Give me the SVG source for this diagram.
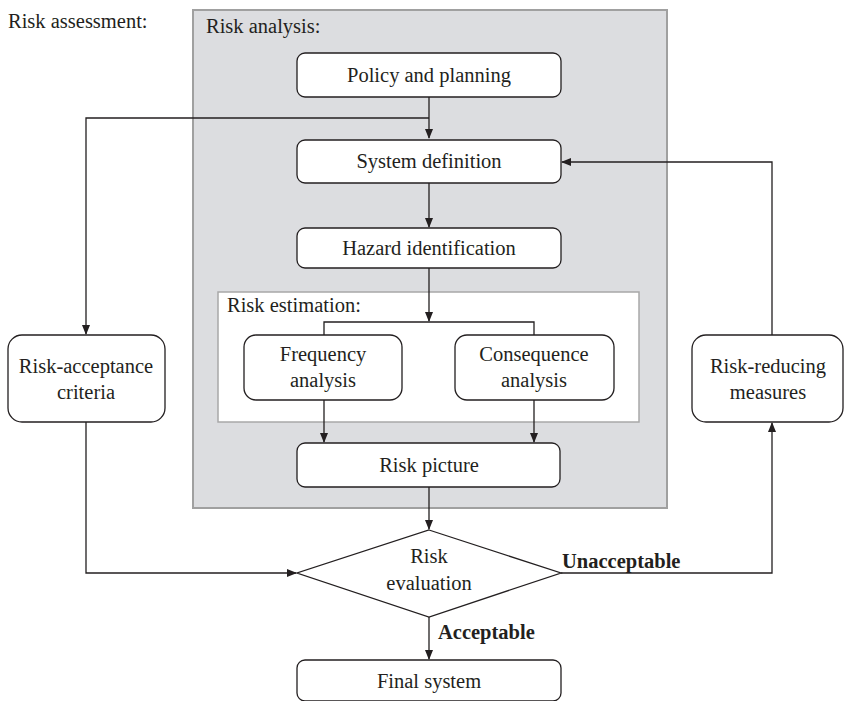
<svg xmlns="http://www.w3.org/2000/svg" width="845" height="701" viewBox="0 0 845 701">
<defs>
<marker id="arr" markerWidth="10" markerHeight="8" refX="9" refY="4" orient="auto" markerUnits="userSpaceOnUse">
<path d="M0,0 L10,4 L0,8 Z" fill="#231f20"/>
</marker>
<style>
text{font-family:"Liberation Serif","Times New Roman",serif;font-size:20.5px;fill:#231f20}
.c{text-anchor:middle}
.b{font-weight:bold}
.node{fill:#fff;stroke:#231f20;stroke-width:1.3}
.conn path{fill:none;stroke:#231f20;stroke-width:1.3}
</style>
</defs>
<rect width="845" height="701" fill="#fff"/>
<text x="8" y="28">Risk assessment:</text>
<g id="risk-analysis">
<rect x="193" y="10" width="474" height="498" fill="#dcdde0" stroke="#a0a0a0" stroke-width="2"/>
<text x="206" y="33">Risk analysis:</text>
</g>
<g id="risk-estimation">
<rect x="218" y="292" width="421" height="130" fill="#fff" stroke="#a8a8a8" stroke-width="1.5"/>
<text x="227" y="312">Risk estimation:</text>
</g>
<g class="conn">
<path d="M429,97 V138" marker-end="url(#arr)"/>
<path d="M429,118 H86 V334" marker-end="url(#arr)"/>
<path d="M429,183 V227" marker-end="url(#arr)"/>
<path d="M429,268 V321" marker-end="url(#arr)"/>
<path d="M324,335 V322 H534 V335"/>
<path d="M324,400 V442" marker-end="url(#arr)"/>
<path d="M534,400 V442" marker-end="url(#arr)"/>
<path d="M429,487 V529" marker-end="url(#arr)"/>
<path d="M86,422 V573 H296" marker-end="url(#arr)"/>
<path d="M561,573 H772 V423" marker-end="url(#arr)"/>
<path d="M772,335 V162 H562" marker-end="url(#arr)"/>
<path d="M429,617 V659" marker-end="url(#arr)"/>
</g>
<g id="policy"><rect class="node" x="297" y="53" width="264" height="44" rx="8"/><text class="c" x="429" y="82">Policy and planning</text></g>
<g id="system-definition"><rect class="node" x="297" y="140" width="264" height="43" rx="8"/><text class="c" x="429" y="168">System definition</text></g>
<g id="hazard"><rect class="node" x="297" y="228" width="264" height="40" rx="8"/><text class="c" x="429" y="255">Hazard identification</text></g>
<g id="frequency"><rect class="node" x="244" y="335" width="158" height="65" rx="12"/><text class="c" x="323" y="361">Frequency</text><text class="c" x="323" y="387">analysis</text></g>
<g id="consequence"><rect class="node" x="455" y="335" width="159" height="65" rx="12"/><text class="c" x="534" y="361">Consequence</text><text class="c" x="534" y="387">analysis</text></g>
<g id="risk-picture"><rect class="node" x="297" y="443" width="263" height="44" rx="8"/><text class="c" x="429" y="472">Risk picture</text></g>
<g id="acceptance"><rect class="node" x="8" y="335" width="157" height="87" rx="14"/><text class="c" x="86" y="373">Risk-acceptance</text><text class="c" x="86" y="399">criteria</text></g>
<g id="reducing"><rect class="node" x="692" y="335" width="151" height="87" rx="14"/><text class="c" x="768" y="373">Risk-reducing</text><text class="c" x="768" y="399">measures</text></g>
<g id="evaluation"><path class="node" d="M429,530 L561,573 L429,617 L297,573 Z"/><text class="c" x="429" y="563">Risk</text><text class="c" x="429" y="590">evaluation</text></g>
<text class="b" x="562" y="568">Unacceptable</text>
<text class="b" x="438" y="639">Acceptable</text>
<g id="final"><rect class="node" x="297" y="660" width="264" height="41" rx="8"/><text class="c" x="429" y="688">Final system</text></g>
</svg>
